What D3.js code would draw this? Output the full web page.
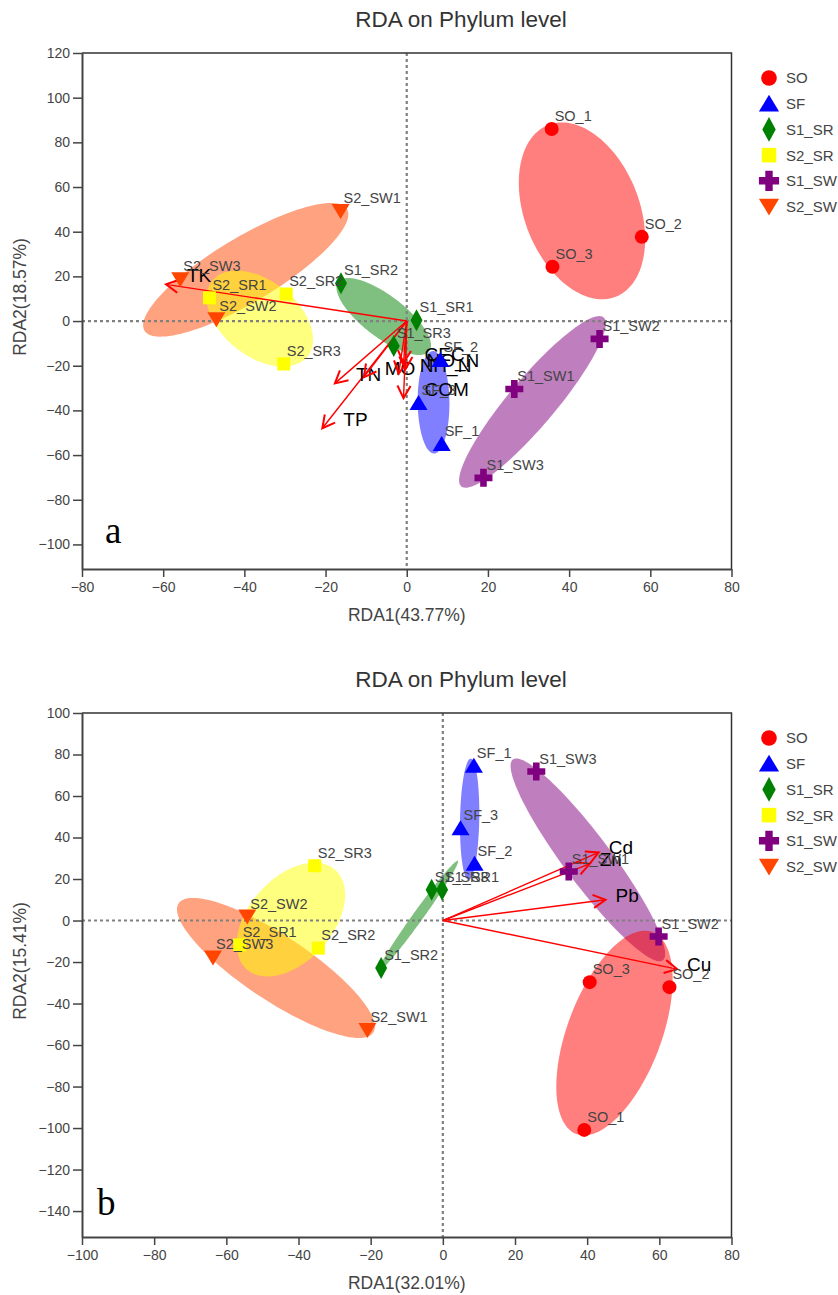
<!DOCTYPE html>
<html>
<head>
<meta charset="utf-8">
<script src="https://cdn.jsdelivr.net/npm/d3@7"></script>
<style>
  body { margin: 0; background: #fff; }
  svg { display: block; font-family: "Liberation Sans", Arial, sans-serif; }
</style>
</head>
<body>
<svg id="chart"></svg>
<script>
// Groups (legend order)
const groups = ["SO", "SF", "S1_SR", "S2_SR", "S1_SW", "S2_SW"];

// Samples
const sampleNames = ["SO_1", "SO_2", "SO_3", "SF_1", "SF_2", "SF_3",
  "S1_SR1", "S1_SR2", "S1_SR3", "S2_SR1", "S2_SR2", "S2_SR3",
  "S1_SW1", "S1_SW2", "S1_SW3", "S2_SW1", "S2_SW2", "S2_SW3"];
const sampleGroups = ["SO", "SO", "SO", "SF", "SF", "SF",
  "S1_SR", "S1_SR", "S1_SR", "S2_SR", "S2_SR", "S2_SR",
  "S1_SW", "S1_SW", "S1_SW", "S2_SW", "S2_SW", "S2_SW"];

// Panel a scores
const rda1A = [35.7, 57.9, 35.9, 8.6, 8.3, 2.9, 2.4, -16.2, -3.2, -48.6, -29.7, -30.3, 26.5, 47.5, 18.9, -16.3, -46.9, -55.8];
const rda2A = [86.0, 37.7, 24.3, -55.0, -17.4, -36.7, 0.4, 16.9, -11.2, 10.4, 12.1, -19.2, -30.4, -8.0, -70.2, 49.3, 0.8, 18.7];
const envA = ["TK", "TP", "TN", "MO", "NH_N", "NO_N", "CEC", "COM"];
const envA1 = [-59.3, -20.8, -17.7, -10.6, -2.0, -0.3, -0.8, -0.8];
const envA2 = [16.4, -48.0, -27.9, -25.2, -23.5, -21.5, -18.7, -34.5];

// Panel b scores
const rda1B = [39.2, 62.8, 40.7, 8.6, 8.8, 4.9, -0.2, -17.1, -3.1, -56.3, -34.5, -35.5, 34.9, 59.8, 25.9, -20.9, -54.2, -63.7];
const rda2B = [-100.9, -32.1, -29.7, 74.6, 27.3, 44.5, 14.8, -22.9, 14.8, -11.7, -13.3, 26.4, 23.6, -7.7, 71.8, -52.7, 1.9, -17.8];
const envB = ["Cd", "Zn", "Pb", "Cu"];
const envB1 = [43.2, 40.7, 45.1, 64.9];
const envB2 = [32.8, 27.3, 10.0, -23.4];

// Axis settings
const xTicksA = d3.range(-80, 81, 20);
const yTicksA = d3.range(-100, 121, 20);
const xTicksB = d3.range(-100, 81, 20);
const yTicksB = d3.range(-140, 101, 20);

const colors = {
  SO: "#ff0000", SF: "#0000ff", S1_SR: "#008000",
  S2_SR: "#ffff00", S1_SW: "#800080", S2_SW: "#ff4500"
};

const W = 838, H = 1295;
const left = 82, right = 731.5;
const K = 1.22; // ellipse scale

const svg = d3.select("#chart").attr("width", W).attr("height", H);

function markerPath(g, k) {
  const p = d3.path();
  if (g === "SO") {
    p.arc(0, 0, 7 * k, 0, 2 * Math.PI);
  } else if (g === "SF") {
    p.moveTo(0, -8 * k); p.lineTo(9 * k, 7 * k); p.lineTo(-9 * k, 7 * k); p.closePath();
  } else if (g === "S1_SR") {
    p.moveTo(0, -11 * k); p.lineTo(6 * k, 0); p.lineTo(0, 11 * k); p.lineTo(-6 * k, 0); p.closePath();
  } else if (g === "S2_SR") {
    p.rect(-6.5 * k, -6.5 * k, 13 * k, 13 * k);
  } else if (g === "S1_SW") {
    const a = 9 * k, t = 3.3 * k;
    p.moveTo(-t, -a); p.lineTo(t, -a); p.lineTo(t, -t); p.lineTo(a, -t); p.lineTo(a, t);
    p.lineTo(t, t); p.lineTo(t, a); p.lineTo(-t, a); p.lineTo(-t, t); p.lineTo(-a, t);
    p.lineTo(-a, -t); p.lineTo(-t, -t); p.closePath();
  } else {
    p.moveTo(-9 * k, -7 * k); p.lineTo(9 * k, -7 * k); p.lineTo(0, 8 * k); p.closePath();
  }
  return p.toString();
}

// covariance ellipse from the group's points
function ellipsePoints(xs, ys) {
  const n = xs.length;
  const mx = d3.mean(xs), my = d3.mean(ys);
  let sxx = 0, syy = 0, sxy = 0;
  for (let i = 0; i < n; i++) {
    sxx += (xs[i] - mx) ** 2;
    syy += (ys[i] - my) ** 2;
    sxy += (xs[i] - mx) * (ys[i] - my);
  }
  sxx /= n - 1; syy /= n - 1; sxy /= n - 1;
  const a = Math.sqrt(sxx), b = sxy / a, c = Math.sqrt(Math.max(syy - b * b, 0));
  return d3.range(0, 360, 3).map((deg) => {
    const t = (deg * Math.PI) / 180;
    const u = Math.cos(t), v = Math.sin(t);
    return [mx + K * a * u, my + K * (b * u + c * v)];
  });
}

function drawPanel(p) {
  const x = d3.scaleLinear().domain(p.xDomain).range([left, right]);
  const y = d3.scaleLinear().domain(p.yDomain).range([p.bottom, p.top]);
  const g = svg.append("g");

  // Title
  g.append("text")
    .attr("x", 461).attr("y", p.top - 26.5)
    .attr("text-anchor", "middle")
    .attr("font-size", 22.5).attr("fill", "#333")
    .text("RDA on Phylum level");

  // Ellipses (drawn last group first)
  const line = d3.line().x((d) => x(d[0])).y((d) => y(d[1])).curve(d3.curveLinearClosed);
  groups.slice().reverse().forEach((grp) => {
    const idx = sampleGroups.map((s, i) => (s === grp ? i : -1)).filter((i) => i >= 0);
    const pts = ellipsePoints(idx.map((i) => p.xs[i]), idx.map((i) => p.ys[i]));
    g.append("path")
      .attr("d", line(pts))
      .attr("fill", colors[grp])
      .attr("fill-opacity", 0.5);
  });

  // Zero lines
  g.append("line")
    .attr("x1", x(0)).attr("x2", x(0)).attr("y1", p.top).attr("y2", p.bottom)
    .attr("stroke", "#808080").attr("stroke-width", 2.2).attr("stroke-dasharray", "3,3");
  g.append("line")
    .attr("x1", left).attr("x2", right).attr("y1", y(0)).attr("y2", y(0))
    .attr("stroke", "#808080").attr("stroke-width", 2.2).attr("stroke-dasharray", "3,3");

  // Axes
  const yAxis = g.append("g")
    .attr("transform", `translate(${left},0)`)
    .call(d3.axisLeft(y).tickValues(p.yTicks).tickSize(9).tickSizeOuter(0).tickPadding(3));
  const xAxis = g.append("g")
    .attr("transform", `translate(0,${p.bottom})`)
    .call(d3.axisBottom(x).tickValues(p.xTicks).tickSize(8).tickSizeOuter(0).tickPadding(5));
  [yAxis, xAxis].forEach((ax) => {
    ax.attr("font-family", null).attr("font-size", 14);
    ax.select(".domain").attr("stroke", "#444").attr("stroke-width", 2);
    ax.selectAll(".tick line").attr("stroke", "#444").attr("stroke-width", 1.5);
    ax.selectAll(".tick text").attr("fill", "#444");
  });

  // Top / right border
  g.append("path")
    .attr("d", `M${left},${p.top}H${right}V${p.bottom}`)
    .attr("fill", "none").attr("stroke", "#333").attr("stroke-width", 1.5);

  // Axis titles
  g.append("text")
    .attr("x", (left + right) / 2).attr("y", p.bottom + 52)
    .attr("text-anchor", "middle").attr("font-size", 17.5).attr("fill", "#444")
    .text(p.xLabel);
  g.append("text")
    .attr("transform", `translate(26,${(p.top + p.bottom) / 2 - 14}) rotate(-90)`)
    .attr("text-anchor", "middle").attr("font-size", 17.5).attr("fill", "#444")
    .text(p.yLabel);

  // Environmental arrows
  const ox = x(0), oy = y(0);
  p.env.forEach((name, i) => {
    const tx = x(p.ex[i]), ty = y(p.ey[i]);
    const ang = Math.atan2(ty - oy, tx - ox);
    const L = 14, th = (28 * Math.PI) / 180;
    const a1 = [tx - L * Math.cos(ang - th), ty - L * Math.sin(ang - th)];
    const a2 = [tx - L * Math.cos(ang + th), ty - L * Math.sin(ang + th)];
    g.append("line")
      .attr("x1", ox).attr("y1", oy).attr("x2", tx).attr("y2", ty)
      .attr("stroke", "#ff0000").attr("stroke-width", 1.4);
    g.append("path")
      .attr("d", `M${a1[0]},${a1[1]}L${tx},${ty}L${a2[0]},${a2[1]}`)
      .attr("fill", "none").attr("stroke", "#ff0000").attr("stroke-width", 2);
    g.append("text")
      .attr("x", tx + p.envDx).attr("y", ty + p.envDy)
      .attr("font-size", 19).attr("fill", "#000")
      .text(name);
  });

  // Sample points
  sampleNames.forEach((name, i) => {
    g.append("path")
      .attr("transform", `translate(${x(p.xs[i])},${y(p.ys[i])})`)
      .attr("d", markerPath(sampleGroups[i], 1))
      .attr("fill", colors[sampleGroups[i]]);
  });
  sampleNames.forEach((name, i) => {
    g.append("text")
      .attr("x", x(p.xs[i]) + 3).attr("y", y(p.ys[i]) - 8)
      .attr("font-size", 14.5).attr("fill", "#444")
      .text(name);
  });

  // Panel letter
  g.append("text")
    .attr("x", p.letterX).attr("y", p.letterY)
    .attr("font-family", "'Liberation Serif', 'Times New Roman', serif")
    .attr("font-size", 37).attr("fill", "#000")
    .text(p.letter);

  // Legend
  const lg = g.append("g").attr("transform", `translate(769,${p.top + 25})`);
  groups.forEach((grp, i) => {
    lg.append("path")
      .attr("transform", `translate(0,${i * 25.7})`)
      .attr("d", markerPath(grp, 1.12))
      .attr("fill", colors[grp]);
    lg.append("text")
      .attr("x", 17).attr("y", i * 25.7)
      .attr("dy", "0.36em")
      .attr("font-size", 15).attr("fill", "#444")
      .text(grp);
  });
}

drawPanel({
  xs: rda1A, ys: rda2A, env: envA, ex: envA1, ey: envA2,
  top: 53, bottom: 569, xDomain: [-80, 80], yDomain: [-111, 120],
  xTicks: xTicksA, yTicks: yTicksA,
  xLabel: "RDA1(43.77%)", yLabel: "RDA2(18.57%)",
  envDx: 21, envDy: -2, letter: "a", letterX: 105, letterY: 543
});

drawPanel({
  xs: rda1B, ys: rda2B, env: envB, ex: envB1, ey: envB2,
  top: 713, bottom: 1237, xDomain: [-100, 80], yDomain: [-152.5, 100],
  xTicks: xTicksB, yTicks: yTicksB,
  xLabel: "RDA1(32.01%)", yLabel: "RDA2(15.41%)",
  envDx: 10, envDy: 2, letter: "b", letterX: 97, letterY: 1215
});
</script>
</body>
</html>
